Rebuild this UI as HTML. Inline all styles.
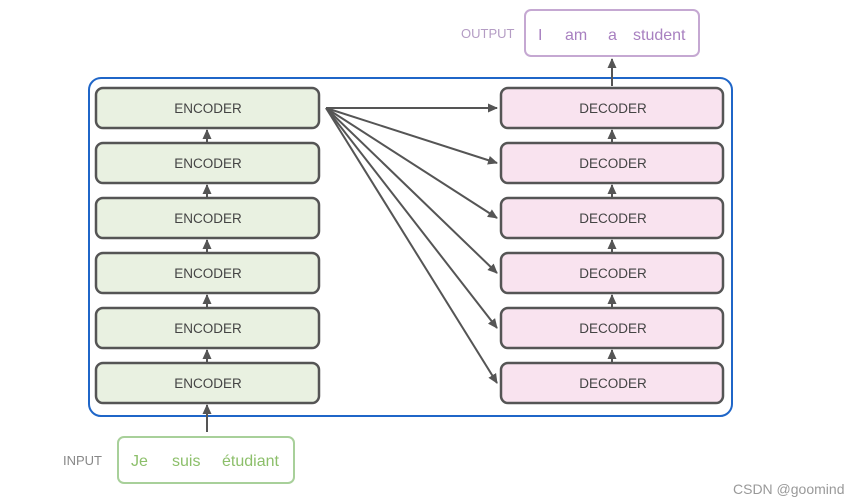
<!DOCTYPE html>
<html><head><meta charset="utf-8"><style>
body{margin:0;background:#fff;width:860px;height:504px;overflow:hidden}
svg{display:block}
text{font-family:"Liberation Sans","DejaVu Sans",sans-serif}
</style></head><body>
<svg width="860" height="504" viewBox="0 0 860 504">
<defs><marker id="a" markerWidth="10" markerHeight="10" refX="9" refY="5" orient="auto" markerUnits="userSpaceOnUse"><path d="M0,0.5 L10,5 L0,9.5 z" fill="#555"/></marker></defs>
<rect x="89" y="78" width="643" height="338" rx="12" fill="none" stroke="#1f66c8" stroke-width="2"/>
<g stroke="#555" stroke-width="2" marker-end="url(#a)">
<line x1="207" y1="143" x2="207" y2="130"/><line x1="207" y1="198" x2="207" y2="185"/><line x1="207" y1="253" x2="207" y2="240"/><line x1="207" y1="308" x2="207" y2="295"/><line x1="207" y1="363" x2="207" y2="350"/><line x1="207" y1="432" x2="207" y2="405"/>
<line x1="612" y1="143" x2="612" y2="130"/><line x1="612" y1="198" x2="612" y2="185"/><line x1="612" y1="253" x2="612" y2="240"/><line x1="612" y1="308" x2="612" y2="295"/><line x1="612" y1="363" x2="612" y2="350"/><line x1="612" y1="86" x2="612" y2="59"/>
<line x1="326" y1="108" x2="497" y2="108"/><line x1="326" y1="108" x2="497" y2="163"/><line x1="326" y1="108" x2="497" y2="218"/><line x1="326" y1="108" x2="497" y2="273"/><line x1="326" y1="108" x2="497" y2="328"/><line x1="326" y1="108" x2="497" y2="383"/>
</g>
<g stroke="#555" stroke-width="2.5" fill="#e9f1e1">
<rect x="96" y="88" width="223" height="40" rx="7"/><rect x="96" y="143" width="223" height="40" rx="7"/><rect x="96" y="198" width="223" height="40" rx="7"/><rect x="96" y="253" width="223" height="40" rx="7"/><rect x="96" y="308" width="223" height="40" rx="7"/><rect x="96" y="363" width="223" height="40" rx="7"/>
</g>
<g stroke="#555" stroke-width="2.5" fill="#f9e3ef">
<rect x="501" y="88" width="222" height="40" rx="7"/><rect x="501" y="143" width="222" height="40" rx="7"/><rect x="501" y="198" width="222" height="40" rx="7"/><rect x="501" y="253" width="222" height="40" rx="7"/><rect x="501" y="308" width="222" height="40" rx="7"/><rect x="501" y="363" width="222" height="40" rx="7"/>
</g>
<g font-size="13.5" fill="#444" text-anchor="middle">
<text x="208" y="113">ENCODER</text><text x="208" y="168">ENCODER</text><text x="208" y="223">ENCODER</text><text x="208" y="278">ENCODER</text><text x="208" y="333">ENCODER</text><text x="208" y="388">ENCODER</text>
<text x="613" y="113">DECODER</text><text x="613" y="168">DECODER</text><text x="613" y="223">DECODER</text><text x="613" y="278">DECODER</text><text x="613" y="333">DECODER</text><text x="613" y="388">DECODER</text>
</g>
<rect x="525" y="10" width="174" height="46" rx="6" fill="none" stroke="#c5a8d2" stroke-width="2"/>
<text x="461" y="38" font-size="13" fill="#b49cc4">OUTPUT</text>
<g font-size="16" fill="#a880c0"><text x="538" y="40">I</text><text x="565" y="40">am</text><text x="608" y="40">a</text><text x="633" y="40">student</text></g>
<rect x="118" y="437" width="176" height="46" rx="6" fill="none" stroke="#a8d09a" stroke-width="2"/>
<text x="63" y="465" font-size="13" fill="#888">INPUT</text>
<g font-size="16" fill="#8cbf6a"><text x="131" y="466">Je</text><text x="172" y="466">suis</text><text x="222" y="466">étudiant</text></g>
<text x="733" y="494" font-size="14" fill="#999">CSDN @goomind</text>
</svg>
</body></html>
